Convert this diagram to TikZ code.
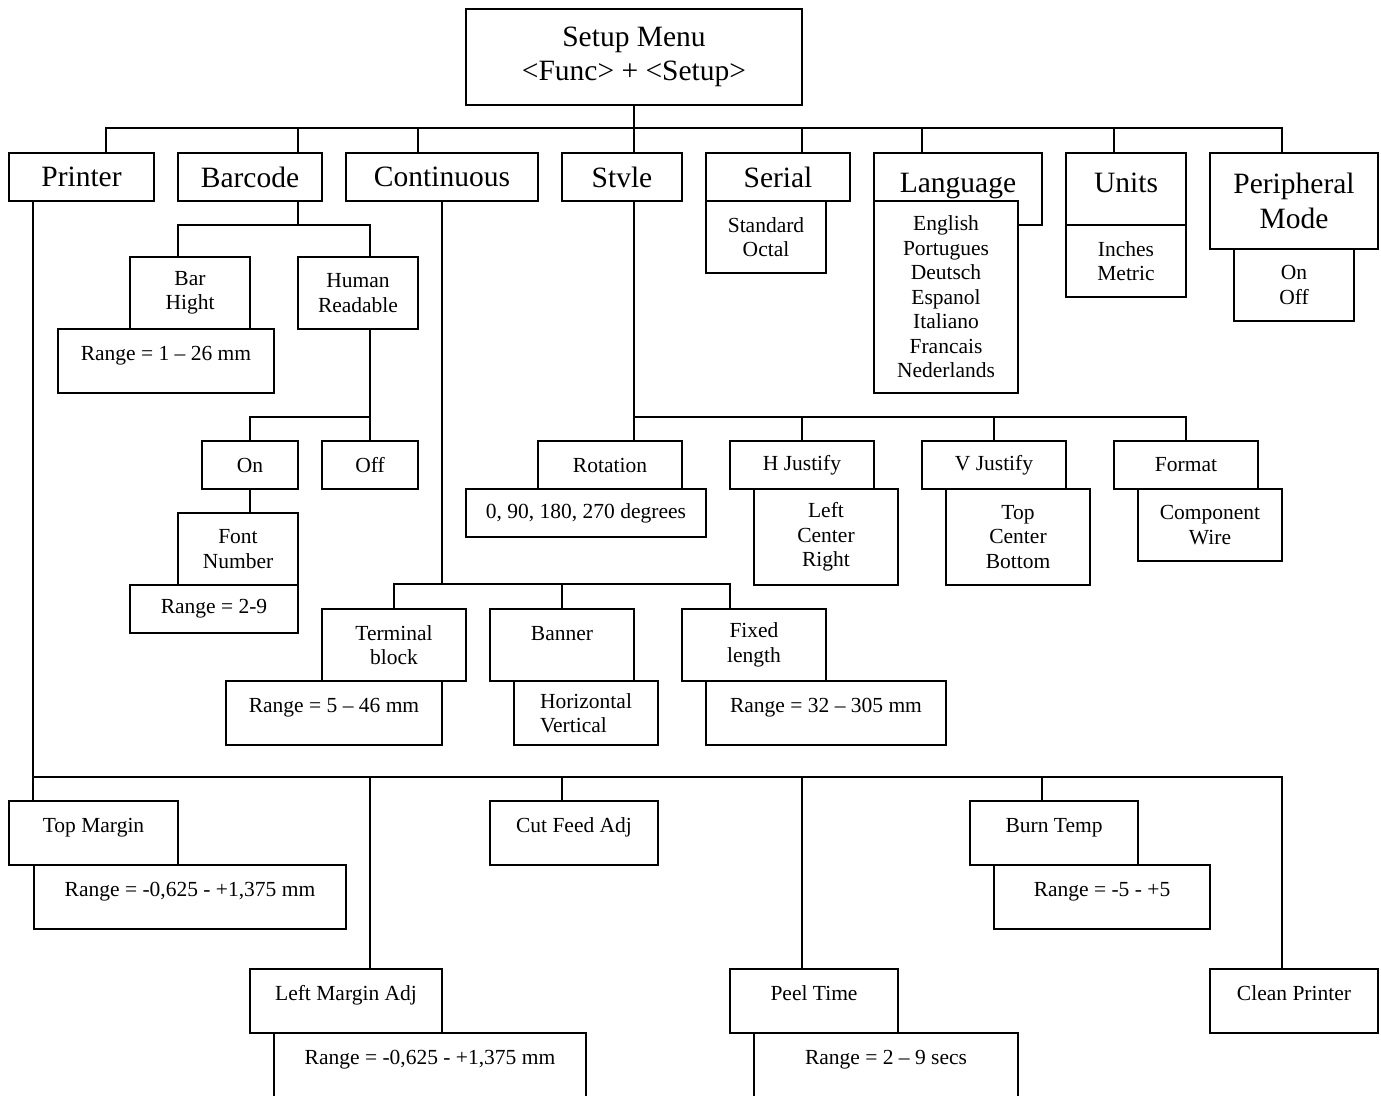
\documentclass[tikz,border=0pt]{standalone}
\usepackage{fontspec}
\setmainfont{Liberation Serif}
\usepackage{tikz}

\begin{document}
\begin{tikzpicture}[x=1pt, y=-1pt,
  box/.style={rectangle, draw, fill=white, line width=1.6pt, inner sep=0pt, align=center, font=\fontsize{21.5}{24.5}\selectfont},
  bigbox/.style={box, font=\fontsize{29.5}{34.5}\selectfont},
  topbox/.style={box, text height=31pt, text depth=#1},
  bigtopbox/.style={bigbox, text height=39pt, text depth=#1},
  link/.style={line width=1.6pt, line cap=rect}]

  % Page
  \path[use as bounding box, fill=white] (0,0) rectangle (1381,1095);

  % Setup menu
  \node[bigbox, minimum width=336pt, minimum height=96pt] (menu) at (634,57) {Setup Menu\\<Func> + <Setup>};

  % Top level items
  \node[bigbox, minimum width=145pt, minimum height=48pt] (printer) at (81.5,177) {Printer};
  \node[bigbox, minimum width=144pt, minimum height=48pt] (barcode) at (250,177) {Barcode};
  \node[bigbox, minimum width=192pt, minimum height=48pt] (continuous) at (442,177) {Continuous};
  \node[bigbox, minimum width=120pt, minimum height=48pt] (stvle) at (622,177) {Stvle};
  \node[bigbox, minimum width=144pt, minimum height=48pt] (serial) at (778,177) {Serial};
  \node[box, minimum width=120pt, minimum height=72pt] (serialopt) at (766,237) {Standard\\Octal};
  \node[bigtopbox=33pt, minimum width=168pt] (language) at (958,189) {Language};
  \node[box, minimum width=144pt, minimum height=192pt] (languageopt) at (946,297) {English\\Portugues\\Deutsch\\Espanol\\Italiano\\Francais\\Nederlands};
  \node[bigtopbox=33pt, minimum width=120pt] (units) at (1126,189) {Units};
  \node[box, minimum width=120pt, minimum height=72pt] (unitsopt) at (1126,261) {Inches\\Metric};
  \node[bigbox, minimum width=168pt, minimum height=96pt] (peripheral) at (1294,201) {Peripheral\\Mode};
  \node[box, minimum width=120pt, minimum height=72pt] (peripheralopt) at (1294,285) {On\\Off};

  % Barcode items
  \node[box, minimum width=120pt, minimum height=72pt] (barhight) at (190,293) {Bar\\Hight};
  \node[topbox=33pt, minimum width=216pt] (barrange) at (166,361) {Range = 1 -- 26 mm};
  \node[box, minimum width=120pt, minimum height=72pt] (human) at (358,293) {Human\\Readable};
  \node[box, minimum width=96pt, minimum height=48pt] (humanon) at (250,465) {On};
  \node[box, minimum width=96pt, minimum height=48pt] (humanoff) at (370,465) {Off};
  \node[box, minimum width=120pt, minimum height=72pt] (fontnum) at (238,549) {Font\\Number};
  \node[box, minimum width=168pt, minimum height=48pt] (fontrange) at (214,609) {Range = 2-9};

  % Continuous items
  \node[box, minimum width=144pt, minimum height=72pt] (terminal) at (394,645) {Terminal\\block};
  \node[topbox=33pt, minimum width=216pt] (terminalrange) at (334,713) {Range = 5 -- 46 mm};
  \node[topbox=41pt, minimum width=144pt] (banner) at (562,645) {Banner};
  \node[box, minimum width=144pt, minimum height=64pt, align=left] (banneropt) at (586,713) {Horizontal\\Vertical};
  \node[box, minimum width=144pt, minimum height=72pt] (fixed) at (754,645) {Fixed\\length};
  \node[topbox=33pt, minimum width=240pt] (fixedrange) at (826,713) {Range = 32 -- 305 mm};

  % Style items
  \node[box, minimum width=144pt, minimum height=48pt] (rotation) at (610,465) {Rotation};
  \node[box, minimum width=240pt, minimum height=48pt] (rotationopt) at (586,513) {0, 90, 180, 270 degrees};
  \node[box, minimum width=144pt, minimum height=48pt] (hjustify) at (802,465) {H Justify};
  \node[box, minimum width=144pt, minimum height=96pt] (hjustifyopt) at (826,537) {Left\\Center\\Right};
  \node[box, minimum width=144pt, minimum height=48pt] (vjustify) at (994,465) {V Justify};
  \node[box, minimum width=144pt, minimum height=96pt] (vjustifyopt) at (1018,537) {Top\\Center\\Bottom};
  \node[box, minimum width=144pt, minimum height=48pt] (format) at (1186,465) {Format};
  \node[box, minimum width=144pt, minimum height=72pt] (formatopt) at (1210,525) {Component\\Wire};

  % Printer items
  \node[topbox=33pt, minimum width=169pt] (topmargin) at (93.5,833) {Top Margin};
  \node[topbox=33pt, minimum width=312pt] (topmarginrange) at (190,897) {Range = -0,625 - +1,375 mm};
  \node[topbox=33pt, minimum width=192pt] (leftmargin) at (346,1001) {Left Margin Adj};
  \node[topbox=33pt, minimum width=312pt] (leftmarginrange) at (430,1065) {Range = -0,625 - +1,375 mm};
  \node[topbox=33pt, minimum width=168pt] (cutfeed) at (574,833) {Cut Feed Adj};
  \node[topbox=33pt, minimum width=168pt] (peeltime) at (814,1001) {Peel Time};
  \node[topbox=33pt, minimum width=264pt] (peelrange) at (886,1065) {Range = 2 -- 9 secs};
  \node[topbox=33pt, minimum width=168pt] (burntemp) at (1054,833) {Burn Temp};
  \node[topbox=33pt, minimum width=216pt] (burnrange) at (1102,897) {Range = -5 - +5};
  \node[topbox=33pt, minimum width=168pt] (clean) at (1294,1001) {Clean Printer};

  % Links from the setup menu
  \coordinate (mb1) at (106,128);
  \coordinate (mb2) at (298,128);
  \coordinate (mb3) at (418,128);
  \coordinate (mb4) at (634,128);
  \coordinate (mb5) at (802,128);
  \coordinate (mb6) at (922,128);
  \coordinate (mb7) at (1114,128);
  \coordinate (mb8) at (1282,128);
  \draw[link] (menu.south) -- (mb4);
  \draw[link] (mb1) -- (mb8);
  \draw[link] (mb1) -- (mb1 |- printer.north);
  \draw[link] (mb2) -- (mb2 |- barcode.north);
  \draw[link] (mb3) -- (mb3 |- continuous.north);
  \draw[link] (mb4) -- (mb4 |- stvle.north);
  \draw[link] (mb5) -- (mb5 |- serial.north);
  \draw[link] (mb6) -- (mb6 |- language.north);
  \draw[link] (mb7) -- (mb7 |- units.north);
  \draw[link] (mb8) -- (mb8 |- peripheral.north);

  % Barcode links
  \coordinate (bc1) at (178,225);
  \coordinate (bc2) at (298,225);
  \coordinate (bc3) at (370,225);
  \draw[link] (bc2 |- barcode.south) -- (bc2);
  \draw[link] (bc1 |- barhight.north) -- (bc1) -- (bc3) -- (bc3 |- human.north);
  \coordinate (hr1) at (250,417);
  \coordinate (hr2) at (370,417);
  \draw[link] (hr2 |- human.south) -- (hr2) -- (hr1) -- (humanon.north);
  \draw[link] (hr2) -- (humanoff.north);
  \draw[link] (humanon.south) -- (humanon.south |- fontnum.north);

  % Continuous links
  \coordinate (ct1) at (394,584);
  \coordinate (ct2) at (442,584);
  \coordinate (ct3) at (562,584);
  \coordinate (ct4) at (730,584);
  \draw[link] (continuous.south) -- (ct2);
  \draw[link] (terminal.north) -- (ct1) -- (ct4) -- (ct4 |- fixed.north);
  \draw[link] (ct3) -- (banner.north);

  % Style links
  \coordinate (st1) at (634,417);
  \coordinate (st2) at (802,417);
  \coordinate (st3) at (994,417);
  \coordinate (st4) at (1186,417);
  \draw[link] (st1 |- stvle.south) -- (st1) -- (st4) -- (format.north);
  \draw[link] (st1) -- (st1 |- rotation.north);
  \draw[link] (st2) -- (hjustify.north);
  \draw[link] (st3) -- (vjustify.north);

  % Printer links
  \coordinate (pb1) at (33,777);
  \coordinate (pb2) at (370,777);
  \coordinate (pb3) at (562,777);
  \coordinate (pb4) at (802,777);
  \coordinate (pb5) at (1042,777);
  \coordinate (pb6) at (1282,777);
  \draw[link] (pb1 |- printer.south) -- (pb1) -- (pb6) -- (pb6 |- clean.north);
  \draw[link] (pb1) -- (pb1 |- topmargin.north);
  \draw[link] (pb2) -- (pb2 |- leftmargin.north);
  \draw[link] (pb3) -- (pb3 |- cutfeed.north);
  \draw[link] (pb4) -- (pb4 |- peeltime.north);
  \draw[link] (pb5) -- (pb5 |- burntemp.north);

\end{tikzpicture}
\end{document}
